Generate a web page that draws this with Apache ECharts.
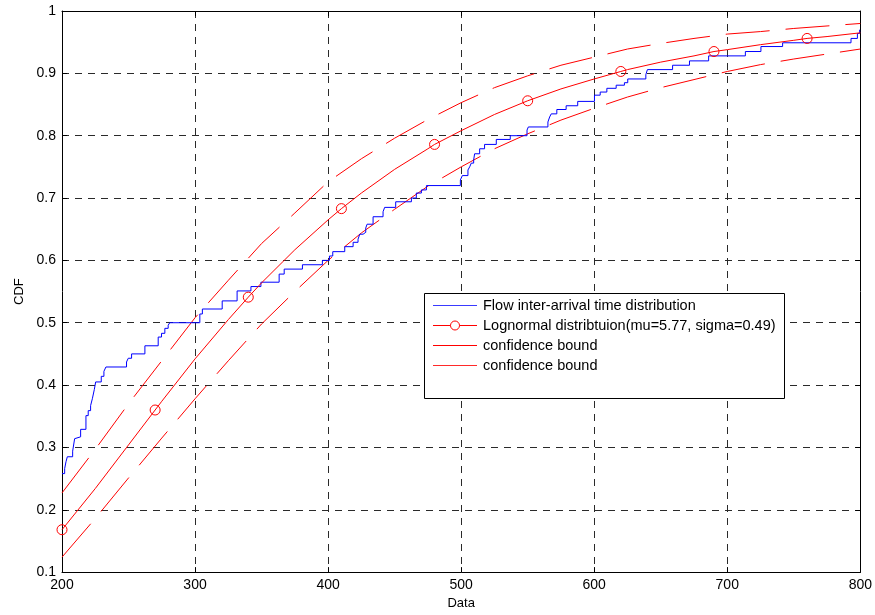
<!DOCTYPE html>
<html>
<head>
<meta charset="utf-8">
<script src="https://cdn.jsdelivr.net/npm/echarts@6/dist/echarts.min.js"></script>
<style>
  html, body { margin: 0; padding: 0; background: #fff; }
  #chart { width: 875px; height: 615px; }
</style>
</head>
<body>
<div id="chart"></div>
<script>
// Axis ticks
const xTicks = [200, 300, 400, 500, 600, 700, 800];
const yTicks = [0.1, 0.2, 0.3, 0.4, 0.5, 0.6, 0.7, 0.8, 0.9, 1];

// Empirical CDF of flow inter-arrival times (each point is the level after a jump)
const empX = [200, 202, 203, 204, 208, 209.5, 211, 214, 218, 219.7, 221.5, 222.8, 224.3, 225.3, 229.5, 231.5, 233,
  248.5, 249.8, 252.3, 262.3, 272.3, 274.8, 277.3, 279.8, 281, 303.6, 305.5, 320.4, 331.6, 342, 349.5, 363.2, 367,
  380.7, 395.7, 401, 403.5, 412.5, 418.8, 422.5, 423.8, 426.3, 428.3, 429.3, 433.8, 441.3, 442.5, 450.8, 462.6,
  466.3, 470.1, 473.9, 499.4, 500.9, 505.1, 506.4, 507.6, 509.4, 510.1, 513.9, 517.6, 526.4, 536.9, 549.5, 550.5,
  565.2, 566.5, 567.7, 571.9, 578.9, 587.6, 600.2, 604.5, 609.5, 616.5, 622.7, 625.2, 638.8, 640, 658.9, 671.6,
  686, 713.6, 725.3, 741.6, 793, 797.8, 799.5, 800];
const empY = [0.258, 0.266, 0.277, 0.285, 0.294, 0.314, 0.317, 0.329, 0.351, 0.359, 0.367, 0.378, 0.393, 0.405, 0.414, 0.422, 0.429,
  0.437, 0.443, 0.450, 0.463, 0.477, 0.483, 0.491, 0.496, 0.500, 0.514, 0.522, 0.535, 0.551, 0.558, 0.565, 0.578, 0.586,
  0.593, 0.600, 0.607, 0.614, 0.622, 0.629, 0.634, 0.642, 0.645, 0.652, 0.658, 0.670, 0.678, 0.685, 0.694, 0.700,
  0.708, 0.713, 0.720, 0.729, 0.736, 0.745, 0.750, 0.756, 0.761, 0.771, 0.779, 0.786, 0.794, 0.800, 0.809, 0.814,
  0.822, 0.830, 0.835, 0.842, 0.848, 0.855, 0.865, 0.870, 0.876, 0.881, 0.885, 0.891, 0.898, 0.906, 0.913, 0.920,
  0.928, 0.935, 0.943, 0.949, 0.956, 0.964, 0.970, 0.970];

// Fitted lognormal CDF
const fitX = [200, 225, 250, 275, 300, 325, 350, 375, 400, 425, 450, 475, 500, 525, 550, 575, 600, 625, 650, 675, 700, 725, 750, 775, 800];
const fitY = [0.168, 0.234, 0.304, 0.374, 0.442, 0.505, 0.564, 0.617, 0.665, 0.708, 0.746, 0.779, 0.808, 0.834, 0.856, 0.875, 0.891, 0.906, 0.918, 0.928, 0.938, 0.946, 0.953, 0.959, 0.965];

// Circle markers on the fitted curve
const markX = [200, 270, 340, 410, 480, 550, 620, 690, 760];
const markY = [0.168, 0.360, 0.541, 0.683, 0.786, 0.856, 0.903, 0.935, 0.956];

// Confidence bounds (same x grid as the fitted curve)
const upperY = [0.227, 0.297, 0.370, 0.439, 0.508, 0.568, 0.627, 0.676, 0.726, 0.763, 0.796, 0.826, 0.853, 0.877, 0.896, 0.913, 0.926, 0.939, 0.948, 0.956, 0.963, 0.967, 0.972, 0.976, 0.980];
const lowerY = [0.124, 0.186, 0.251, 0.315, 0.378, 0.439, 0.498, 0.550, 0.600, 0.644, 0.682, 0.719, 0.750, 0.779, 0.803, 0.825, 0.844, 0.862, 0.877, 0.890, 0.903, 0.914, 0.923, 0.931, 0.939];

// Legend entries
const legendLabels = [
  'Flow inter-arrival time distribution',
  'Lognormal distribtuion(mu=5.77, sigma=0.49)',
  'confidence bound',
  'confidence bound'
];
const legendColors = ['#3a3aff', '#ff0000', '#ff0000', '#ff2a2a'];

const FONT = '"Liberation Sans", Arial, Helvetica, sans-serif';
const RED = '#ff0000';

// Merge the fitted grid with the marker positions; only marker points show a symbol
const fitPoints = fitX.map((x, i) => ({ value: [x, fitY[i]], symbol: 'none' }));
markX.forEach((x, i) => {
  const idx = fitPoints.findIndex(p => p.value[0] === x);
  if (idx >= 0) {
    fitPoints[idx] = { value: [x, markY[i]] };
  } else {
    fitPoints.push({ value: [x, markY[i]] });
  }
});
fitPoints.sort((a, b) => a.value[0] - b.value[0]);

// Legend box drawn as graphic elements
const LEG = { x: 424.5, y: 293.5, w: 360, h: 105, lineX0: 433, lineX1: 477, textX: 483, row0: 305, rowGap: 20 };
const legendGraphics = [
  {
    type: 'rect', z: 10, silent: true,
    shape: { x: LEG.x, y: LEG.y, width: LEG.w, height: LEG.h },
    style: { fill: '#fff', stroke: '#000', lineWidth: 1 }
  }
];
legendLabels.forEach((label, i) => {
  const y = LEG.row0 + i * LEG.rowGap;
  legendGraphics.push({
    type: 'rect', z: 11, silent: true,
    shape: { x: LEG.lineX0, y: y, width: LEG.lineX1 - LEG.lineX0, height: 1 },
    style: { fill: legendColors[i], stroke: null }
  });
  if (i === 1) {
    legendGraphics.push({
      type: 'circle', z: 12, silent: true,
      shape: { cx: (LEG.lineX0 + LEG.lineX1) / 2, cy: y + 0.5, r: 4.5 },
      style: { fill: '#fff', stroke: RED, lineWidth: 1 }
    });
  }
  legendGraphics.push({
    type: 'text', z: 11, silent: true,
    x: LEG.textX, y: y + 0.5,
    style: { text: label, fill: '#000', font: '14.5px ' + FONT, verticalAlign: 'middle', align: 'left' }
  });
});

const chart = echarts.init(document.getElementById('chart'), null, { renderer: 'canvas' });

const gridLine = { show: true, lineStyle: { color: '#2a2a2a', width: 1, type: [7, 6] } };
const tickIn = { show: true, inside: true, length: 5, lineStyle: { color: '#000' } };
const axisLine = { show: true, lineStyle: { color: '#000', width: 1 } };
const tickFont = { color: '#000', fontSize: 14, fontFamily: FONT };

chart.setOption({
  animation: false,
  backgroundColor: '#fff',
  grid: { left: 62, right: 14, top: 11, bottom: 37, containLabel: false },
  xAxis: [
    {
      type: 'value', min: xTicks[0], max: xTicks[xTicks.length - 1], interval: xTicks[1] - xTicks[0],
      position: 'bottom',
      name: 'Data', nameLocation: 'middle', nameGap: 23,
      nameTextStyle: { color: '#000', fontSize: 13, fontFamily: FONT },
      axisLine: axisLine, axisTick: tickIn, splitLine: gridLine,
      axisLabel: Object.assign({ margin: 6 }, tickFont)
    },
    {
      type: 'value', min: xTicks[0], max: xTicks[xTicks.length - 1], interval: xTicks[1] - xTicks[0],
      position: 'top',
      axisLine: axisLine, axisTick: tickIn, splitLine: { show: false }, axisLabel: { show: false }
    }
  ],
  yAxis: [
    {
      type: 'value', min: yTicks[0], max: yTicks[yTicks.length - 1], interval: 0.1,
      position: 'left',
      name: 'CDF', nameLocation: 'middle', nameGap: 35,
      nameTextStyle: { color: '#000', fontSize: 13, fontFamily: FONT },
      axisLine: axisLine, axisTick: tickIn, splitLine: gridLine,
      axisLabel: Object.assign({ margin: 6 }, tickFont)
    },
    {
      type: 'value', min: yTicks[0], max: yTicks[yTicks.length - 1], interval: 0.1,
      position: 'right',
      axisLine: axisLine, axisTick: tickIn, splitLine: { show: false }, axisLabel: { show: false }
    }
  ],
  graphic: legendGraphics,
  series: [
    {
      name: legendLabels[0], type: 'line', step: 'end',
      data: empX.map((x, i) => [x, empY[i]]),
      showSymbol: false, symbol: 'none',
      lineStyle: { color: '#0000ff', width: 1 },
      emphasis: { disabled: true }, z: 3
    },
    {
      name: legendLabels[1], type: 'line',
      data: fitPoints,
      symbol: 'circle', symbolSize: 10, showSymbol: true, showAllSymbol: true,
      lineStyle: { color: RED, width: 1 },
      itemStyle: { color: 'rgba(255,255,255,0)', borderColor: RED, borderWidth: 1 },
      emphasis: { disabled: true }, z: 4
    },
    {
      name: 'confidence bound upper', type: 'line',
      data: fitX.map((x, i) => [x, upperY[i]]),
      showSymbol: false, symbol: 'none',
      lineStyle: { color: RED, width: 1, type: [44, 16] },
      emphasis: { disabled: true }, z: 2
    },
    {
      name: 'confidence bound lower', type: 'line',
      data: fitX.map((x, i) => [x, lowerY[i]]),
      showSymbol: false, symbol: 'none',
      lineStyle: { color: RED, width: 1, type: [44, 16] },
      emphasis: { disabled: true }, z: 2
    }
  ]
});
</script>
</body>
</html>
